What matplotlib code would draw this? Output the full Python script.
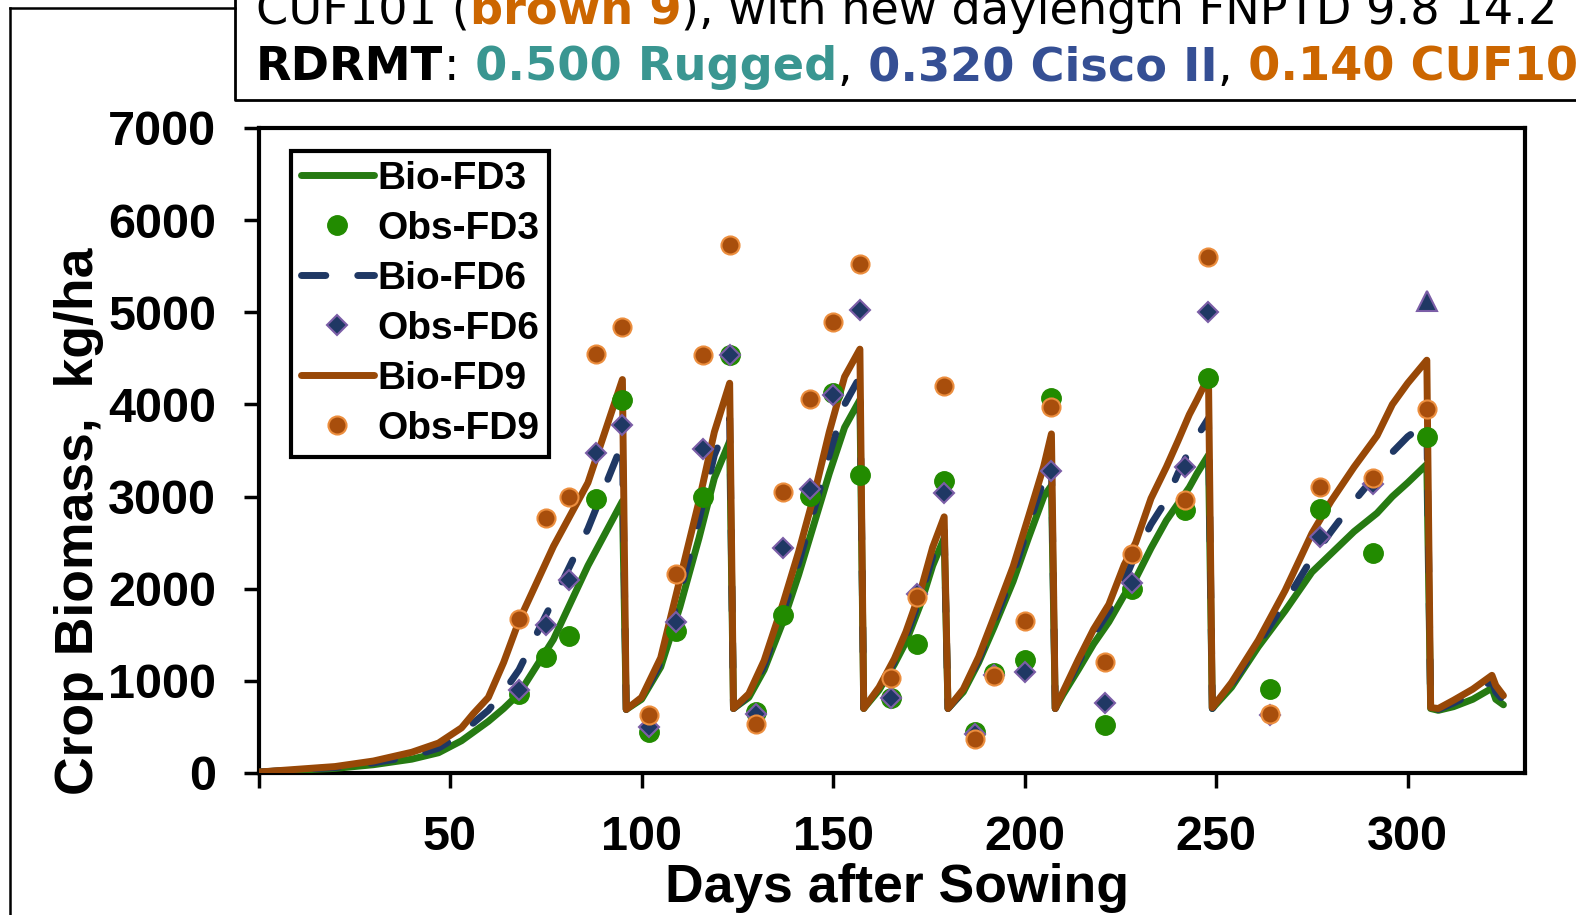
import numpy as np
from matplotlib import pyplot as plt
from matplotlib.lines import Line2D

# simulated biomass, kg/ha
sim_days = [0, 10, 20, 30, 40, 47, 53, 56, 60, 64, 68, 77, 86, 95,
            96, 100, 105, 110, 115, 119, 123,
            124, 128, 132, 137, 141, 145, 149, 153, 155, 157,
            158, 162, 166, 169, 173, 176, 179,
            180, 184, 188, 192, 197, 201, 205, 207,
            208, 210, 214, 218, 222, 226, 229, 233, 237, 240, 243, 245, 248,
            249, 254, 261, 268, 275, 280, 286, 292, 296, 300, 305,
            306, 308, 312, 317, 322, 323, 325]

bio_fd3 = [10, 30, 50, 90, 150, 220, 350, 440, 560, 700, 860, 1450, 2250, 2950,
           690, 800, 1150, 1800, 2550, 3200, 3600,
           700, 820, 1120, 1650, 2150, 2700, 3250, 3750, 3900, 4050,
           700, 900, 1180, 1420, 1850, 2250, 2550,
           700, 880, 1200, 1580, 2080, 2550, 3000, 3120,
           700, 850, 1120, 1400, 1640, 1930, 2110, 2440, 2740, 2920, 3100, 3250, 3450,
           700, 930, 1370, 1760, 2180, 2380, 2620, 2820, 3000, 3150, 3350,
           700, 680, 720, 800, 920, 800, 740]

bio_fd6 = [10, 35, 60, 110, 180, 270, 420, 540, 680, 880, 1120, 1880, 2650, 3580,
           690, 810, 1200, 1950, 2750, 3450, 3850,
           700, 840, 1170, 1750, 2280, 2850, 3450, 4000, 4150, 4300,
           700, 910, 1210, 1480, 1930, 2350, 2650,
           700, 890, 1230, 1640, 2160, 2680, 3180, 3400,
           700, 860, 1200, 1500, 1750, 2080, 2380, 2700, 2960, 3250, 3500, 3650, 3850,
           700, 960, 1400, 1850, 2330, 2620, 2950, 3250, 3480, 3650, 3800,
           700, 690, 760, 860, 1000, 880, 790]

bio_fd9 = [10, 40, 70, 130, 225, 325, 490, 640, 820, 1200, 1650, 2460, 3150, 4270,
           690, 820, 1250, 2100, 2950, 3700, 4230,
           700, 860, 1220, 1850, 2400, 3010, 3700, 4300, 4450, 4600,
           700, 930, 1240, 1530, 2000, 2450, 2780,
           700, 910, 1260, 1690, 2240, 2780, 3330, 3680,
           700, 880, 1230, 1560, 1830, 2260, 2500, 2980, 3320, 3600, 3890, 4050, 4300,
           710, 980, 1440, 1980, 2600, 2950, 3320, 3660, 4000, 4230, 4480,
           710, 700, 790, 910, 1060, 950, 840]

# observed biomass
obs_days = [68, 75, 81, 88, 95, 102, 109, 116, 123, 130, 137, 144, 150, 157, 165,
            172, 179, 187, 192, 200, 207, 221, 228, 242, 248, 264, 277, 291, 305]
obs_fd3 = [860, 1254, 1490, 2977, 4046, 440, 1538, 3000, 4536, 660, 1715, 3010, 4120, 3232, 818,
           1400, 3165, 450, 1090, 1230, 4067, 520, 2000, 2855, 4290, 910, 2870, 2393, 3648]
obs_fd6 = [900, 1603, 2094, 3468, 3780, 500, 1640, 3511, 4536, 638, 2440, 3080, 4103, 5027, 809,
           1945, 3038, 425, 1060, 1094, 3282, 762, 2060, 3318, 5000, 630, 2560, 3135]
obs_fd6_last_day = [305]
obs_fd6_last = [5120]
obs_fd9 = [1670, 2765, 3000, 4545, 4840, 625, 2165, 4535, 5725, 530, 3050, 4055, 4895, 5525, 1030,
           1905, 4200, 370, 1050, 1648, 3968, 1200, 2380, 2962, 5597, 645, 3105, 3200, 3945]

xticks = [0, 50, 100, 150, 200, 250, 300]
xticklabels = ['', '50', '100', '150', '200', '250', '300']
yticks = [0, 1000, 2000, 3000, 4000, 5000, 6000, 7000]

green_line = '#267A12'
green_dot = '#228B00'
navy = '#1F3864'
purple = '#7B5EA7'
brown = '#984807'
orange_fill = '#A84E0C'
orange_edge = '#EC8E3E'

plt.rcParams['font.family'] = ['Liberation Sans', 'DejaVu Sans']
plt.rcParams['font.weight'] = 'bold'

W, H = 1576, 915
fig = plt.figure(figsize=(W / 100, H / 100), dpi=100)
ax = fig.add_axes([258.5 / W, 1 - 773 / H, 1266 / W, 645 / H])

ax.plot(sim_days, bio_fd3, color=green_line, lw=5, label='Bio-FD3', zorder=3,
        solid_capstyle='round', solid_joinstyle='round')
ax.plot(obs_days, obs_fd3, ls='none', marker='o', ms=14, color=green_dot, mec=green_dot,
        label='Obs-FD3', zorder=6)
ax.plot(sim_days, bio_fd6, color=navy, lw=5, ls=(0, (3.5, 4.6)), dash_capstyle='round',
        label='Bio-FD6', zorder=4)
ax.plot(obs_days[:-1], obs_fd6, ls='none', marker='D', ms=10.5, color=navy, mec=purple,
        mew=1.5, label='Obs-FD6', zorder=7)
ax.plot(obs_fd6_last_day, obs_fd6_last, ls='none', marker='^', ms=15, color=navy, mec=purple,
        mew=1.5, zorder=7)
ax.plot(sim_days, bio_fd9, color=brown, lw=5, label='Bio-FD9', zorder=5,
        solid_capstyle='round', solid_joinstyle='round')
ax.plot(obs_days, obs_fd9, ls='none', marker='o', ms=13, color=orange_fill, mec=orange_edge,
        mew=1.5, label='Obs-FD9', zorder=8)

ax.set_xlim(0, 330.5)
ax.set_ylim(0, 7000)
ax.set_xticks(xticks)
ax.set_xticklabels(xticklabels)
ax.set_yticks(yticks)
ax.tick_params(axis='both', labelsize=35, width=2.5, length=10.5, direction='out')
ax.tick_params(axis='x', pad=20)
ax.tick_params(axis='y', pad=20)
for sp in ax.spines.values():
    sp.set_linewidth(3)

ax.set_xlabel('Days after Sowing', fontsize=38.5, fontweight='bold')
ax.xaxis.set_label_coords(0.504, -0.139)
ax.set_ylabel('Crop Biomass,  kg/ha', fontsize=38.5, fontweight='bold')
ax.yaxis.set_label_coords(-0.122, 0.39)

leg = ax.legend(loc='upper left', bbox_to_anchor=(0.026, 0.964), borderaxespad=0,
                frameon=True, fancybox=False, framealpha=1,
                handlelength=1.87, handletextpad=0.1, labelspacing=0.36,
                borderpad=0.25, prop={'weight': 'bold', 'size': 28})
leg.get_frame().set_edgecolor('black')
leg.get_frame().set_linewidth(3)

# outer frame of the parent figure and the title box
fig.add_artist(Line2D([10 / W, 10 / W], [1 - 8 / H, 0], transform=fig.transFigure,
                      color='black', lw=1.8))
fig.add_artist(Line2D([10 / W, 235 / W], [1 - 8 / H, 1 - 8 / H], transform=fig.transFigure,
                      color='black', lw=1.8))
fig.add_artist(Line2D([235 / W, 235 / W, 1.01], [1.01, 1 - 100 / H, 1 - 100 / H],
                      transform=fig.transFigure, color='black', lw=2))

renderer = fig.canvas.get_renderer()


def colored_line(x, y, parts):
    for s, c, w in parts:
        t = fig.text(x, y, s, color=c, fontweight=w, fontsize=33.3, family='DejaVu Sans',
                     va='baseline', ha='left')
        bb = t.get_window_extent(renderer=renderer)
        x += bb.width / W


colored_line(256 / W, 1 - 24 / H, [
    ('CUF101 (', 'black', 'normal'),
    ('brown 9', '#CC6600', 'bold'),
    ('), with new daylength FNPTD 9.8 14.2 hr', 'black', 'normal'),
])
colored_line(256 / W, 1 - 80.5 / H, [
    ('RDRMT', 'black', 'bold'),
    (':', 'black', 'normal'),
    (' 0.500 Rugged', '#3A9691', 'bold'),
    (',', 'black', 'normal'),
    (' 0.320 Cisco II', '#354F94', 'bold'),
    (',', 'black', 'normal'),
    (' 0.140 CUF101', '#CC6600', 'bold'),
])

plt.savefig('out.png', dpi=100)
